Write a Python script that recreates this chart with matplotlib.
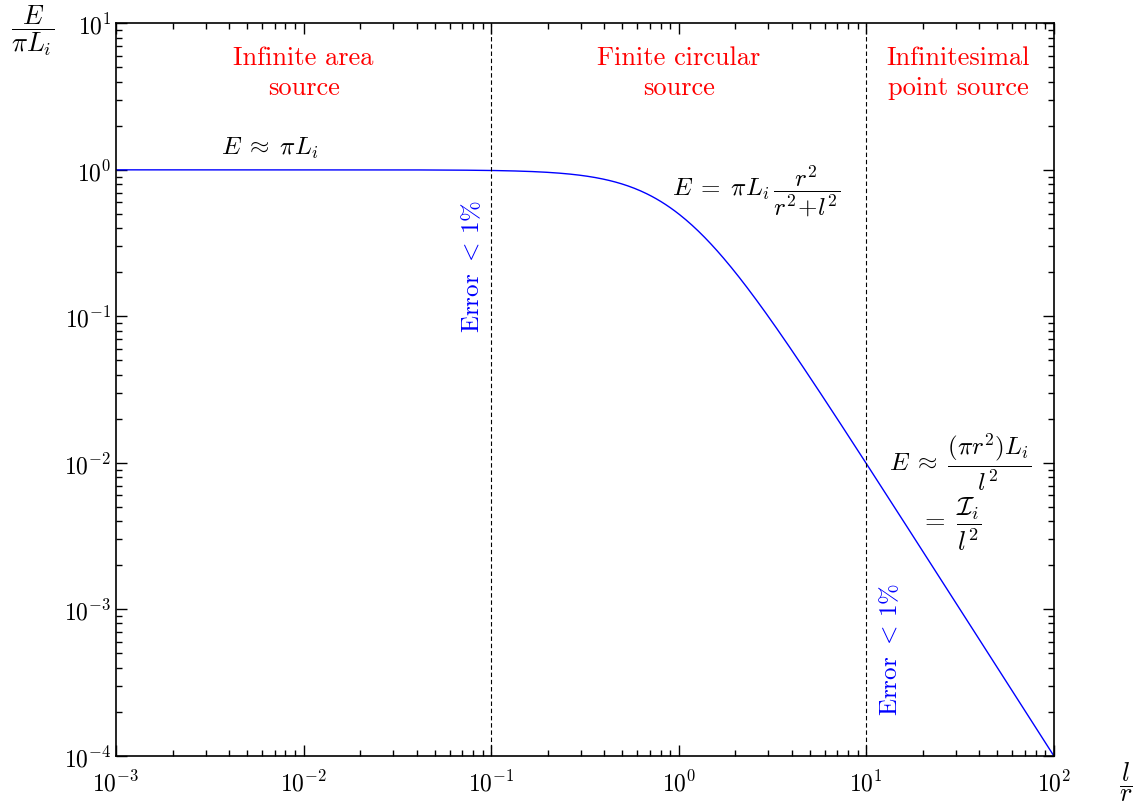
import numpy as np
import matplotlib
matplotlib.use("Agg")
import matplotlib.pyplot as plt

plt.rcParams['font.family'] = 'serif'
plt.rcParams['font.serif'] = ['cmr10', 'DejaVu Serif']
plt.rcParams['mathtext.fontset'] = 'cm'
plt.rcParams['axes.unicode_minus'] = False
plt.rcParams['axes.formatter.use_mathtext'] = True

# l/r ratio and the normalised irradiance E/(pi L_i) = r^2/(r^2+l^2)
l_over_r = np.logspace(-3, 2, 600)
E_norm = 1.0 / (1.0 + l_over_r**2)

# limits of the three regimes (error < 1%)
bounds = [0.1, 10.0]

regions = ["Infinite area\nsource", "Finite circular\nsource", "Infinitesimal\npoint source"]
region_x = [1e-2, 1.0, 31.0]

fig = plt.figure(figsize=(11.38, 8.12), dpi=100)
ax = fig.add_axes([0.102, 0.068, 0.824, 0.902])

ax.loglog(l_over_r, E_norm, color='blue', lw=1.0)
for b in bounds:
    ax.axvline(b, color='black', ls='--', lw=0.8, dashes=(4, 2.5))

ax.set_xlim(1e-3, 1e2)
ax.set_ylim(1e-4, 1e1)

ax.tick_params(which='both', direction='in', top=True, right=True, labelsize=17)
ax.tick_params(which='major', length=8, width=1)
ax.tick_params(which='minor', length=4, width=1)
ax.tick_params(axis='x', pad=10)
for s in ax.spines.values():
    s.set_linewidth(1.2)

for txt, x in zip(regions, region_x):
    ax.text(x, 10**0.665, txt, color='red', fontsize=19, ha='center', va='center',
            linespacing=1.32)

ax.text(10**-2.18, 10**0.15, r'$E\;\approx\;\pi L_i$', fontsize=18, ha='center', va='center')
ax.text(10**0.41, 10**-0.14, r'$E\;=\;\pi L_i\,\dfrac{r^2}{r^2\!+\!l^2}$', fontsize=18,
        ha='center', va='center')
ax.text(10**1.5, 10**-1.99, r'$E\;\approx\;\dfrac{(\pi r^2)L_i}{l^2}$', fontsize=18,
        ha='center', va='center')
ax.text(10**1.45, 10**-2.41, r'$=\;\dfrac{\mathcal{I}_i}{l^2}$', fontsize=19,
        ha='center', va='center')

ax.text(10**-1.1, 10**-0.65, r'Error $<\,1\%$', color='blue', fontsize=18,
        rotation=90, ha='center', va='center')
ax.text(10**1.13, 10**-3.27, r'Error $<\,1\%$', color='blue', fontsize=18,
        rotation=90, ha='center', va='center')

fig.text(0.029, 0.962, r'$\dfrac{E}{\pi L_i}$', fontsize=19, ha='center', va='center')
fig.text(0.989, 0.036, r'$\dfrac{l}{r}$', fontsize=19, ha='center', va='center')

fig.savefig("out.png", dpi=100)
plt.close(fig)
